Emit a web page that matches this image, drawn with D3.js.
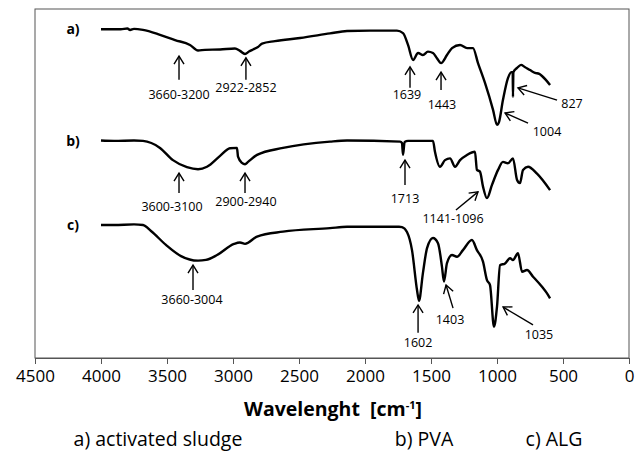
<!DOCTYPE html>
<html>
<head>
<meta charset="utf-8">
<script src="https://cdn.jsdelivr.net/npm/d3@7"></script>
<style>
  body { margin: 0; background: #fff; }
  text { font-family: "Open Sans", sans-serif; fill: #000; }
</style>
</head>
<body>
<div id="root"></div>
<script>
// FTIR spectra, wavenumber [cm-1] and stacked transmittance (a.u.)
var aWave = [4000, 3850, 3800, 3780, 3750, 3682, 3553, 3439, 3326, 3265, 3212, 3098, 2985, 2947, 2909, 2879, 2848, 2811, 2780, 2682, 2492, 2265, 2136, 1962, 1758, 1712, 1674, 1636, 1598, 1561, 1523, 1485, 1455, 1424, 1379, 1341, 1280, 1227, 1182, 1144, 1091, 1030, 1000, 985, 955, 917, 890, 881, 879, 876, 848, 818, 790, 750, 712, 680, 659, 630, 598];
var aT = [94.2, 94.2, 94.4, 94.0, 94.3, 94.0, 92.6, 91.1, 89.7, 88.1, 88.3, 88.4, 88.7, 88.0, 87.1, 87.8, 88.4, 89.1, 90.1, 90.8, 91.7, 93.0, 93.7, 93.8, 93.8, 93.1, 89.7, 85.4, 87.4, 86.8, 87.8, 87.4, 85.9, 84.5, 86.8, 88.8, 89.7, 88.8, 88.8, 84.5, 78.8, 71.1, 66.8, 67.6, 73.9, 80.2, 81.9, 81.9, 74.8, 81.9, 83.1, 84.0, 83.4, 82.5, 81.7, 81.4, 80.8, 79.7, 78.2];

var bWave = [4000, 3900, 3750, 3682, 3553, 3455, 3349, 3265, 3197, 3098, 3023, 2970, 2962, 2932, 2909, 2886, 2818, 2621, 2265, 2136, 1734, 1720, 1712, 1700, 1674, 1485, 1470, 1432, 1394, 1356, 1318, 1280, 1227, 1167, 1152, 1129, 1106, 1076, 1038, 992, 955, 917, 879, 848, 826, 803, 765, 697, 598];
var bT = [62.3, 62.2, 62.3, 62.2, 60.2, 56.7, 54.7, 54.1, 54.8, 57.9, 60.1, 60.2, 57.7, 55.9, 55.5, 56.2, 58.2, 60.2, 62.0, 62.3, 62.0, 61.6, 58.2, 61.9, 62.2, 62.2, 59.1, 54.8, 56.7, 57.2, 54.8, 56.7, 58.2, 59.1, 53.9, 53.4, 49.1, 45.8, 49.6, 53.9, 56.2, 55.8, 57.2, 51.0, 50.1, 53.9, 54.8, 52.8, 48.1];

var cWave = [4000, 3900, 3750, 3682, 3621, 3508, 3394, 3265, 3205, 3121, 2992, 2947, 2909, 2818, 2621, 2265, 2136, 1742, 1720, 1682, 1644, 1606, 1591, 1561, 1530, 1485, 1447, 1417, 1402, 1379, 1341, 1303, 1258, 1190, 1152, 1106, 1076, 1053, 1023, 1000, 977, 939, 901, 879, 841, 810, 773, 727, 659, 621, 598];
var cT = [38.1, 38.1, 38.3, 38.1, 36.4, 32.4, 29.2, 27.9, 28.1, 29.5, 32.7, 33.1, 32.7, 34.8, 36.2, 37.2, 37.6, 37.6, 37.5, 36.1, 30.9, 19.5, 16.4, 24.4, 31.5, 34.4, 32.9, 26.2, 21.9, 27.2, 29.5, 29.0, 30.9, 33.8, 30.9, 27.6, 22.3, 20.9, 9.0, 14.7, 26.6, 27.1, 28.6, 28.1, 30.0, 24.7, 25.2, 23.3, 20.4, 18.5, 17.1];

var seriesNames = ["a)", "b)", "c)"];
var xTicks = [4500, 4000, 3500, 3000, 2500, 2000, 1500, 1000, 500, 0];

// peak annotations: text, arrow tip (w, T), arrow tail (w, T), label (w, T)
var peakText = ["3660-3200", "2922-2852", "1639", "1443", "827", "1004",
                "3600-3100", "2900-2940", "1713", "1141-1096",
                "3660-3004", "1602", "1403", "1035"];
var tipW  = [3409, 2902, 1659, 1424, 841, 939, 3409, 2909, 1697, 1144, 3303, 1598, 1386, 954];
var tipT  = [86.5, 86.0, 83.4, 81.9, 77.4, 70.2, 53.0, 53.0, 56.7, 47.6, 26.6, 15.2, 20.9, 14.6];
var tailW = [3409, 2902, 1659, 1424, 545, 765, 3409, 2909, 1697, 1311, 3303, 1598, 1333, 727];
var tailT = [79.7, 79.7, 77.4, 76.8, 73.9, 67.3, 47.3, 47.3, 49.6, 42.4, 19.5, 7.2, 14.3, 9.5];
var labW  = [3409, 2902, 1682, 1417, 432, 621, 3462, 2902, 1697, 1333, 3311, 1598, 1356, 682];
var labT  = [75.4, 77.4, 75.4, 72.5, 72.8, 65.0, 43.3, 44.7, 45.8, 39.8, 16.6, 4.3, 10.9, 6.6];

var legendText = ["a) activated sludge", "b) PVA", "c) ALG"];

var width = 644, height = 458;
var svg = d3.select("#root").append("svg")
    .attr("width", width)
    .attr("height", height);

var x = d3.scaleLinear().domain([4500, 0]).range([35, 629]);
var y = d3.scaleLinear().domain([0, 100]).range([358, 9]);

// frame
svg.append("rect")
    .attr("x", x.range()[0]).attr("y", y.range()[1])
    .attr("width", x.range()[1] - x.range()[0])
    .attr("height", y.range()[0] - y.range()[1])
    .attr("fill", "none").attr("stroke", "#555").attr("stroke-width", 1);

var xAxis = svg.append("g")
    .attr("transform", "translate(0," + y.range()[0] + ")")
    .call(d3.axisBottom(x).tickValues(xTicks).tickSize(6).tickPadding(6).tickFormat(d3.format("d")));
xAxis.select(".domain").attr("stroke", "#555");
xAxis.selectAll(".tick line").attr("stroke", "#555");
xAxis.selectAll(".tick text").style("font-size", "17px").attr("fill", "#000")
    .style("font-family", "'Open Sans', sans-serif");

var line = d3.line()
    .curve(d3.curveMonotoneX)
    .x(function (d) { return x(d[0]); })
    .y(function (d) { return y(d[1]); });

var spectra = [d3.zip(aWave, aT), d3.zip(bWave, bT), d3.zip(cWave, cT)];

svg.selectAll(".spec")
    .data(spectra)
    .enter().append("path")
    .attr("class", "spec")
    .attr("d", line)
    .attr("fill", "none")
    .attr("stroke", "#000")
    .attr("stroke-width", 2.4)
    .attr("stroke-linejoin", "round");

// series letters
svg.selectAll(".sname")
    .data(seriesNames)
    .enter().append("text")
    .attr("x", x(4212))
    .attr("y", function (d, i) { return y(spectra[i][0][1]) + 5; })
    .attr("text-anchor", "middle")
    .style("font-size", "14px").style("font-weight", "bold")
    .text(function (d) { return d; });

// arrows
var defs = svg.append("defs");
defs.append("marker")
    .attr("id", "head")
    .attr("viewBox", "-10 -6 12 12")
    .attr("refX", 0).attr("refY", 0)
    .attr("markerWidth", 12).attr("markerHeight", 12)
    .attr("markerUnits", "userSpaceOnUse")
    .attr("orient", "auto-start-reverse")
    .append("path")
    .attr("d", "M-8,-5 L0,0 L-8,5")
    .attr("fill", "none").attr("stroke", "#000").attr("stroke-width", 1.4);

var idx = d3.range(peakText.length);
svg.selectAll(".arrow")
    .data(idx)
    .enter().append("line")
    .attr("class", "arrow")
    .attr("x1", function (i) { return x(tipW[i]); })
    .attr("y1", function (i) { return y(tipT[i]); })
    .attr("x2", function (i) { return x(tailW[i]); })
    .attr("y2", function (i) { return y(tailT[i]); })
    .attr("stroke", "#000").attr("stroke-width", 1.4)
    .attr("marker-start", "url(#head)");

svg.selectAll(".peak")
    .data(idx)
    .enter().append("text")
    .attr("class", "peak")
    .attr("x", function (i) { return x(labW[i]); })
    .attr("y", function (i) { return y(labT[i]); })
    .attr("dy", "0.35em")
    .attr("text-anchor", "middle")
    .style("font-size", "12.5px")
    .text(function (i) { return peakText[i]; });

// axis title
var title = svg.append("text")
    .attr("x", 333).attr("y", 416)
    .attr("text-anchor", "middle")
    .style("font-size", "19.5px").style("font-weight", "bold");
title.append("tspan").text("Wavelenght\u00a0 [cm");
title.append("tspan").attr("dy", -7).style("font-size", "11px").text("-1");
title.append("tspan").attr("dy", 7).text("]");

// sample legend
var legendX = [158, 424, 554];
svg.selectAll(".legend")
    .data(legendText)
    .enter().append("text")
    .attr("x", function (d, i) { return legendX[i]; })
    .attr("y", 446)
    .attr("text-anchor", "middle")
    .style("font-size", "19.5px")
    .text(function (d) { return d; });
</script>
</body>
</html>
